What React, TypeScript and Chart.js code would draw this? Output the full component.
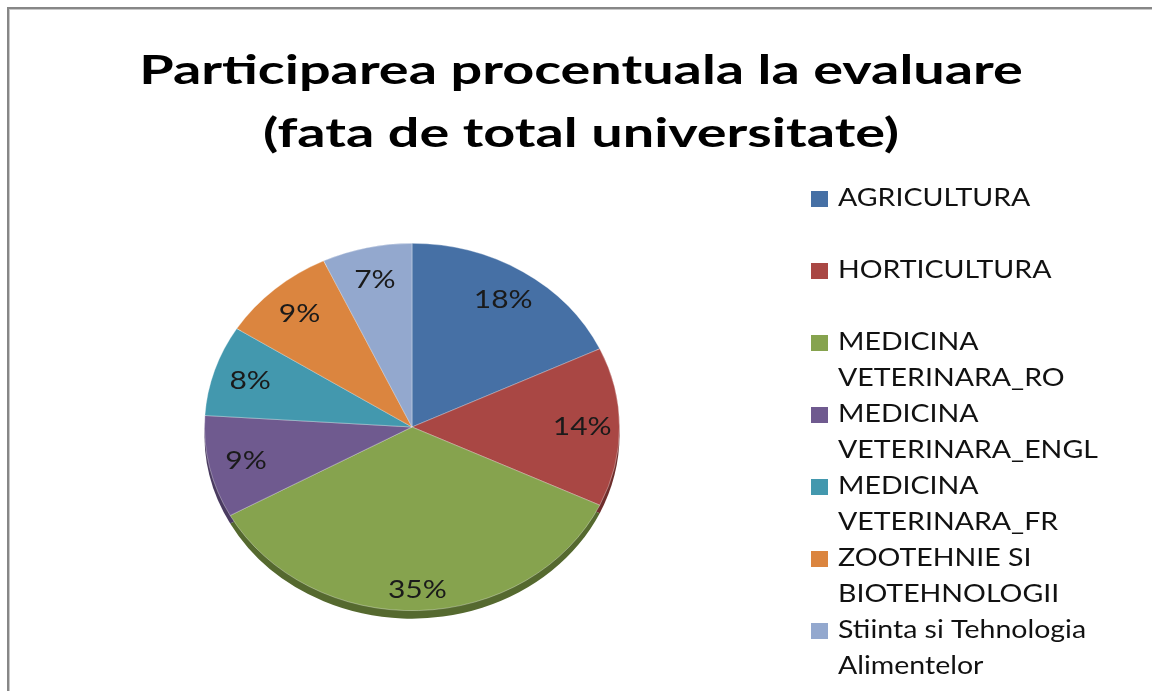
import React, { useEffect, useRef } from "react";
import { Chart, registerables } from "chart.js";

Chart.register(...registerables);

const titleLines = ["Participarea procentuala la evaluare", "(fata de total universitate)"];
const categories = [
  "AGRICULTURA",
  "HORTICULTURA",
  "MEDICINA VETERINARA_RO",
  "MEDICINA VETERINARA_ENGL",
  "MEDICINA VETERINARA_FR",
  "ZOOTEHNIE SI BIOTEHNOLOGII",
  "Stiinta si Tehnologia Alimentelor",
];
const legendLines = [
  ["AGRICULTURA"],
  ["HORTICULTURA"],
  ["MEDICINA", "VETERINARA_RO"],
  ["MEDICINA", "VETERINARA_ENGL"],
  ["MEDICINA", "VETERINARA_FR"],
  ["ZOOTEHNIE SI", "BIOTEHNOLOGII"],
  ["Stiinta si Tehnologia", "Alimentelor"],
];
const percentages = [18, 14, 35, 9, 8, 9, 7];
const colors = ["#4670A5", "#A94744", "#86A34E", "#6F5A8F", "#4398AE", "#DB853F", "#93A8CE"];
const rimColors = ["#2f4d73", "#6e2e2c", "#55692f", "#4a3b60", "#2b6675", "#935827", "#627089"];

const Y_SCALE = 0.885;
const RIM = 8;
const FONT = "Lato, 'Open Sans', sans-serif";

function stretchedText(ctx: any, text: string, x: number, y: number, sx: number, align: string) {
  ctx.save();
  ctx.translate(x, y);
  ctx.scale(sx, 1);
  ctx.textAlign = align;
  ctx.fillText(text, 0, 0);
  ctx.restore();
}

const decorPlugin = {
  id: "decor",
  beforeDraw(chart: any) {
    const ctx = chart.ctx;
    ctx.save();
    ctx.fillStyle = "#ffffff";
    ctx.fillRect(0, 0, chart.width, chart.height);
    ctx.fillStyle = "#878787";
    ctx.fillRect(7, 7, chart.width, 2);
    ctx.fillRect(7, 7, 2, chart.height);
    ctx.fillStyle = "#c8c8c8";
    ctx.fillRect(9, 9, chart.width, 1);
    ctx.fillRect(9, 9, 1, chart.height);

    // title
    ctx.fillStyle = "#000000";
    ctx.font = `bold 41px ${FONT}`;
    ctx.textBaseline = "alphabetic";
    titleLines.forEach((t, i) => stretchedText(ctx, t, 581, 84 + i * 63, 1.36, "center"));

    // legend
    ctx.font = `25px ${FONT}`;
    legendLines.forEach((lines, i) => {
      const base = 206 + i * 72;
      ctx.fillStyle = colors[i];
      ctx.fillRect(811, base - 15, 17, 16);
      ctx.fillStyle = "#111111";
      lines.forEach((l, j) => stretchedText(ctx, l, 838, base + j * 36, 1.14, "left"));
    });
    ctx.restore();
  },
  beforeDatasetsDraw(chart: any) {
    const ctx = chart.ctx;
    const meta = chart.getDatasetMeta(0);
    const a0 = meta.data[0];
    const cx = a0.x;
    const cy = a0.y;
    // rim (3D edge)
    ctx.save();
    ctx.translate(cx, cy + RIM);
    ctx.scale(1, Y_SCALE);
    meta.data.forEach((arc: any, i: number) => {
      ctx.beginPath();
      ctx.moveTo(0, 0);
      ctx.arc(0, 0, arc.outerRadius, arc.startAngle, arc.endAngle);
      ctx.closePath();
      ctx.fillStyle = rimColors[i];
      ctx.fill();
    });
    ctx.restore();
    ctx.save();
    ctx.translate(cx, cy);
    ctx.scale(1, Y_SCALE);
    ctx.translate(-cx, -cy);
  },
  afterDatasetsDraw(chart: any) {
    const ctx = chart.ctx;
    ctx.restore();
    const meta = chart.getDatasetMeta(0);
    ctx.save();
    ctx.font = `25px ${FONT}`;
    ctx.fillStyle = "#1a1a1a";
    ctx.textBaseline = "middle";
    meta.data.forEach((arc: any, i: number) => {
      const mid = (arc.startAngle + arc.endAngle) / 2;
      const s = Math.sin(mid);
      const f = 0.82;
      const x = arc.x + Math.cos(mid) * arc.outerRadius * f;
      const y = arc.y + s * arc.outerRadius * Y_SCALE * (f + 0.07 * Math.max(s, 0));
      stretchedText(ctx, `${percentages[i]}%`, x, y, 1.2, "center");
    });
    ctx.restore();
  },
};

export default function App() {
  const ref = useRef<HTMLCanvasElement>(null);
  useEffect(() => {
    document.body.style.margin = "0";
    const chart = new Chart(ref.current as HTMLCanvasElement, {
      type: "pie",
      data: {
        labels: categories,
        datasets: [
          {
            data: percentages,
            backgroundColor: colors,
            borderColor: "rgba(255,255,255,0.35)",
            borderWidth: 1,
          },
        ],
      },
      options: {
        animation: false,
        responsive: false,
        events: [],
        layout: { padding: { left: 204, right: 532, top: 219, bottom: 56 } },
        plugins: {
          legend: { display: false },
          title: { display: false },
          tooltip: { enabled: false },
        },
      },
      plugins: [decorPlugin],
    });
    return () => chart.destroy();
  }, []);
  return (
    <div style={{ width: 1152, height: 691 }}>
      <canvas ref={ref} width={1152} height={691} style={{ display: "block" }} />
    </div>
  );
}
